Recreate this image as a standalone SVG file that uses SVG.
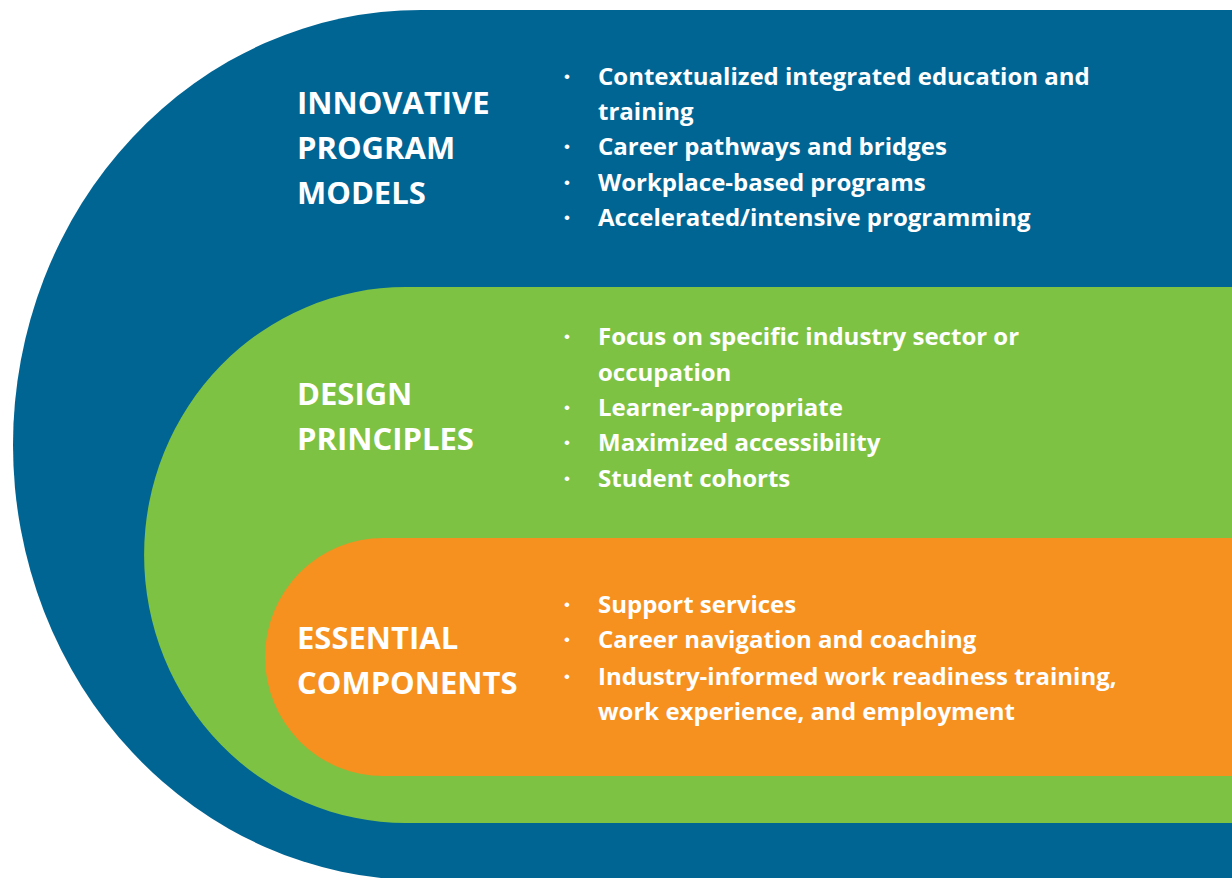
<svg xmlns="http://www.w3.org/2000/svg" width="1232" height="878" viewBox="0 0 1232 878">
<style>
.title{font-family:"Open Sans","Liberation Sans",sans-serif;font-weight:700;font-size:31px;fill:#fff}
.item{font-family:"Open Sans","Liberation Sans",sans-serif;font-weight:700;font-size:24px;fill:#fff}
.dot{font-family:"Liberation Sans",sans-serif;font-size:17px;fill:#fff;text-anchor:middle}
</style>
<rect width="1232" height="878" fill="#fff"/>
<g id="innovative-program-models">
<path d="M421 10 H1232 V880 H421 A408 435 0 0 1 421 10 Z" fill="#016594"/>
<text class="title"><tspan x="297" y="114">INNOVATIVE</tspan><tspan x="297" y="159">PROGRAM</tspan><tspan x="297" y="204">MODELS</tspan></text>
<text class="dot"><tspan x="567" y="82">•</tspan><tspan x="567" y="152">•</tspan><tspan x="567" y="188">•</tspan><tspan x="567" y="223">•</tspan></text>
<text class="item"><tspan x="598" y="85">Contextualized integrated education and</tspan><tspan x="598" y="120">training</tspan><tspan x="598" y="155">Career pathways and bridges</tspan><tspan x="598" y="191">Workplace-based programs</tspan><tspan x="598" y="226">Accelerated/intensive programming</tspan></text>
</g>
<g id="design-principles">
<path d="M406 287 H1232 V823 H406 A262 268 0 0 1 406 287 Z" fill="#7dc243"/>
<text class="title"><tspan x="297" y="405">DESIGN</tspan><tspan x="297" y="450">PRINCIPLES</tspan></text>
<text class="dot"><tspan x="567" y="342">•</tspan><tspan x="567" y="413">•</tspan><tspan x="567" y="448">•</tspan><tspan x="567" y="484">•</tspan></text>
<text class="item"><tspan x="598" y="345">Focus on specific industry sector or</tspan><tspan x="598" y="381">occupation</tspan><tspan x="598" y="416">Learner-appropriate</tspan><tspan x="598" y="451">Maximized accessibility</tspan><tspan x="598" y="487">Student cohorts</tspan></text>
</g>
<g id="essential-components">
<path d="M383 538 H1232 V776 H383 A118 119 0 0 1 383 538 Z" fill="#f6901f"/>
<text class="title"><tspan x="297" y="649">ESSENTIAL</tspan><tspan x="297" y="694">COMPONENTS</tspan></text>
<text class="dot"><tspan x="567" y="610">•</tspan><tspan x="567" y="645">•</tspan><tspan x="567" y="682">•</tspan></text>
<text class="item"><tspan x="598" y="613">Support services</tspan><tspan x="598" y="648">Career navigation and coaching</tspan><tspan x="598" y="685">Industry-informed work readiness training,</tspan><tspan x="598" y="720">work experience, and employment</tspan></text>
</g>
<g id="connectors"/>
</svg>
